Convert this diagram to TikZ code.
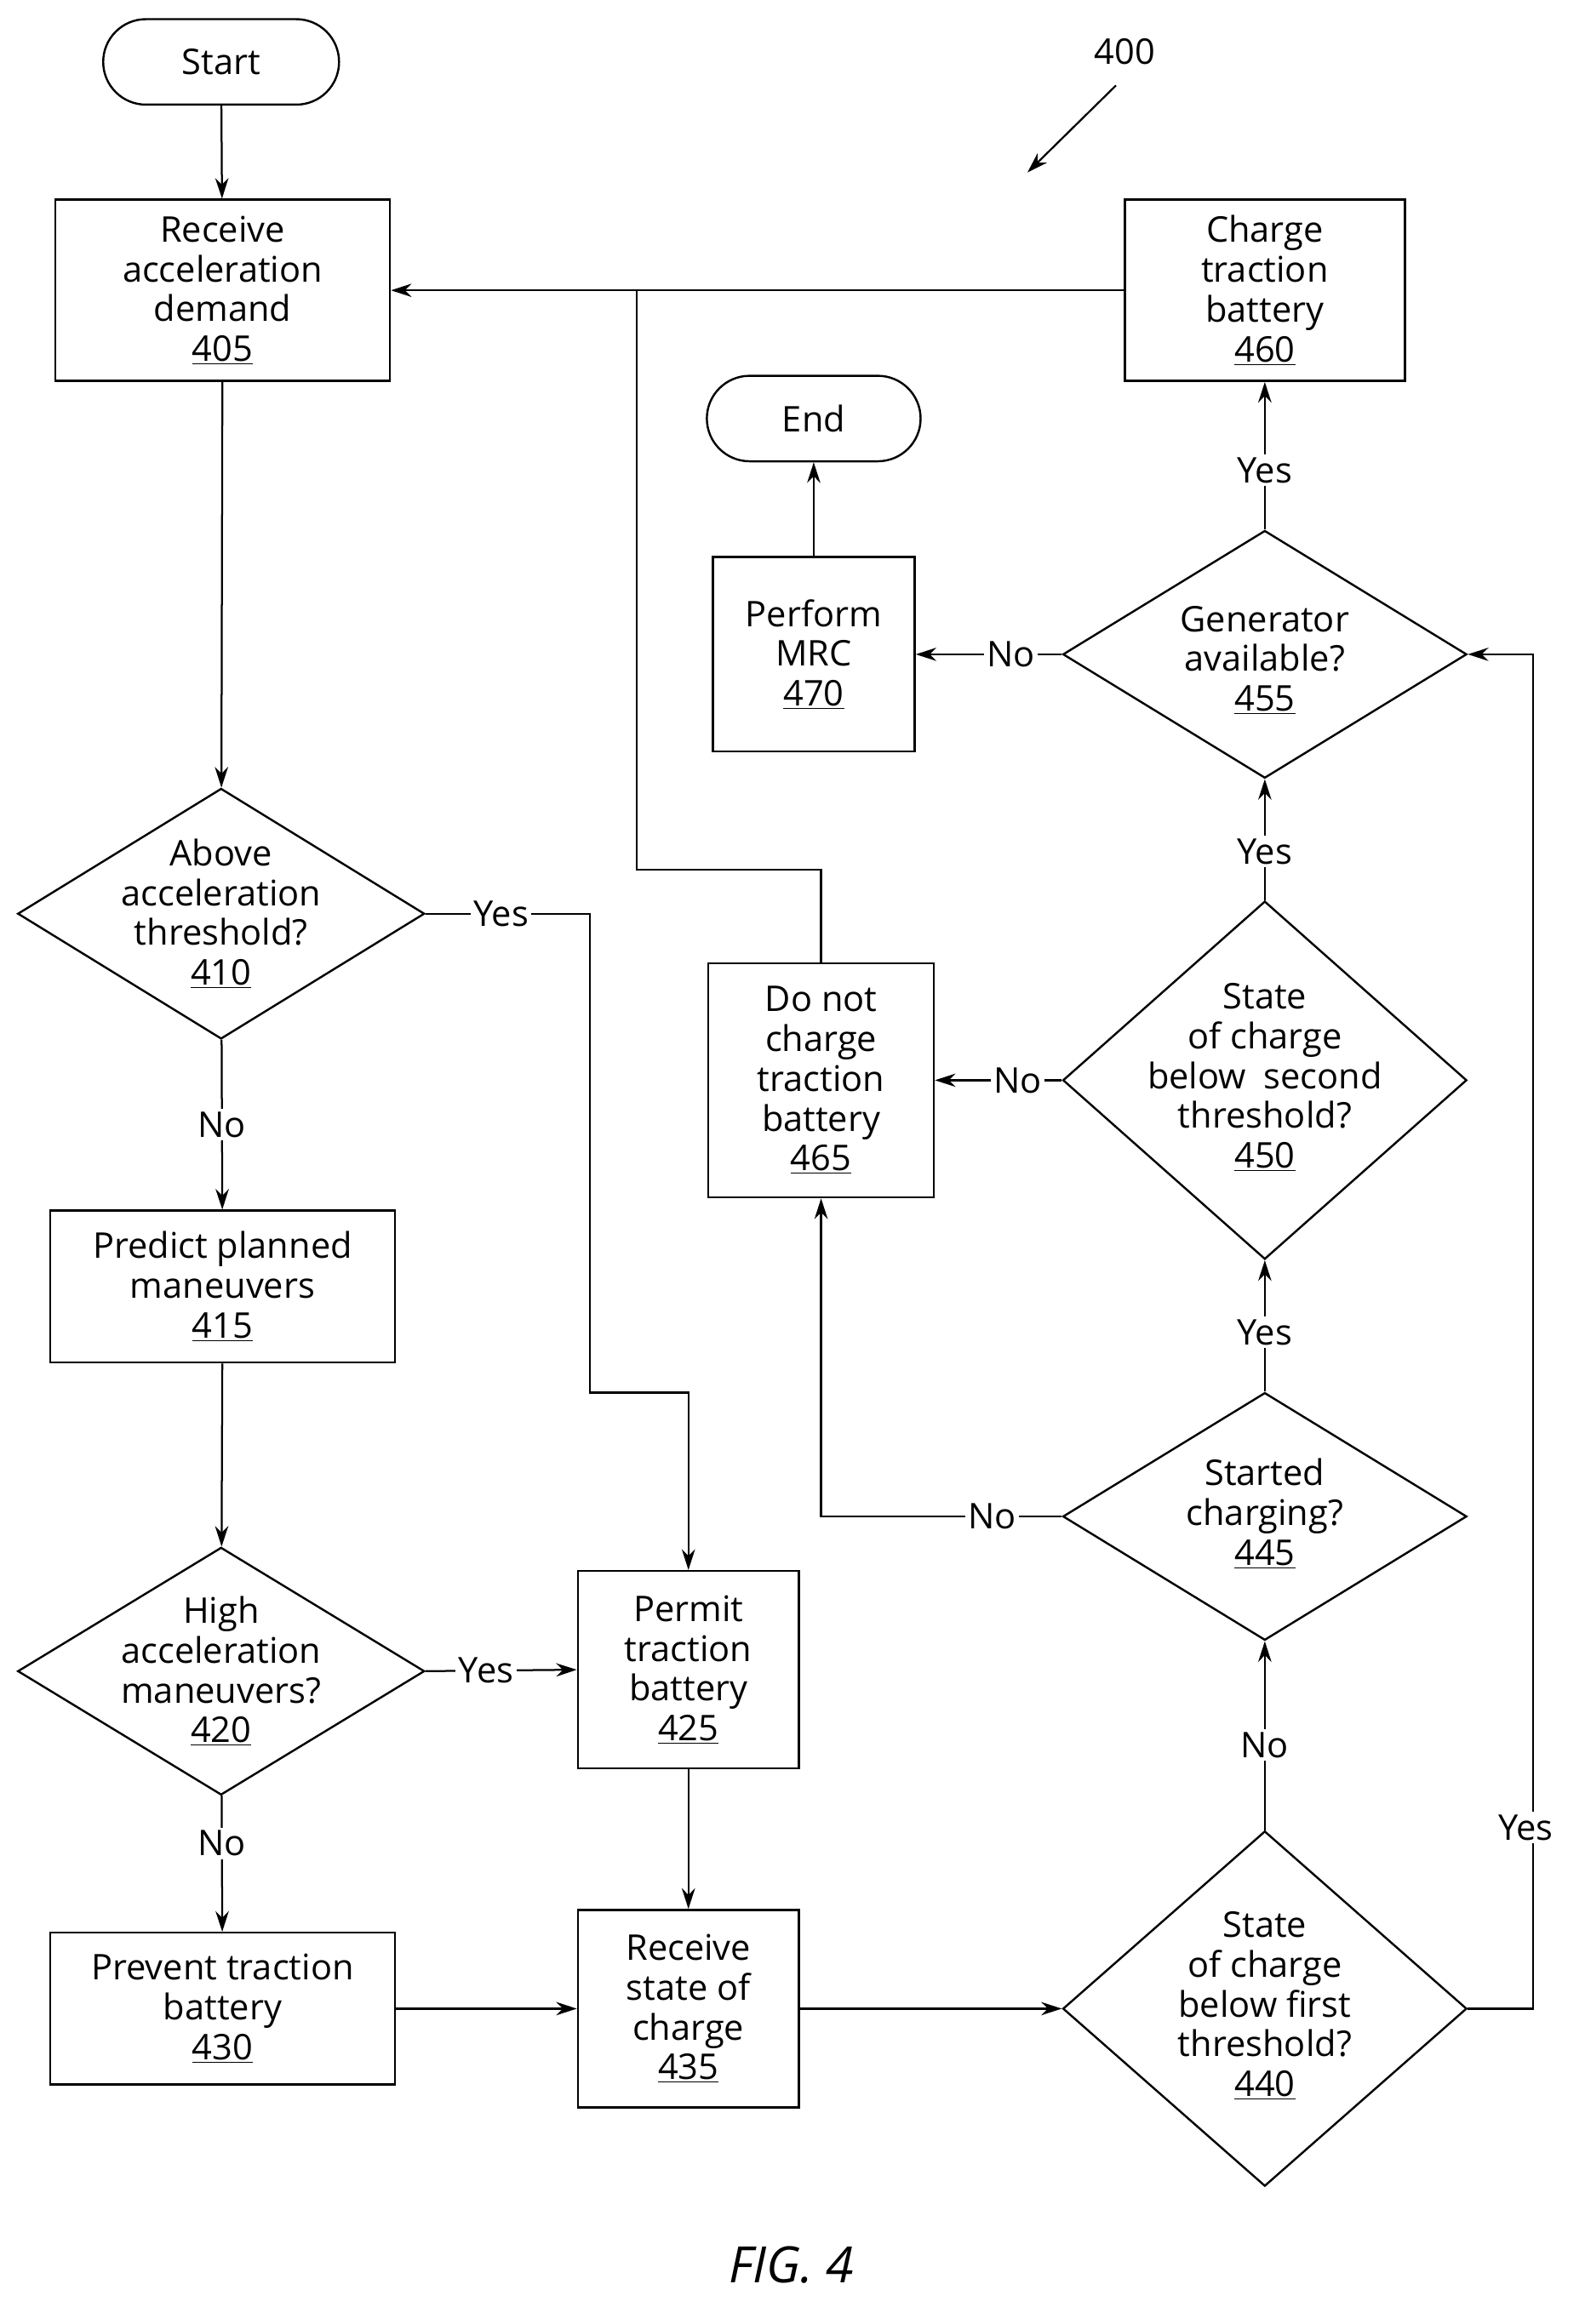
\documentclass[tikz,border=0pt]{standalone}
\usepackage{fontspec}
\setmainfont{Open Sans}
\usetikzlibrary{shapes.geometric,shapes.misc,arrows.meta}
\begin{document}
\begin{tikzpicture}[x=1pt,y=-1pt,
  every node/.style={font=\fontsize{24}{27}\selectfont,align=center,inner sep=0pt},
  box/.style={draw,line width=1.4pt,minimum width=#1},
  diam/.style={draw,diamond,line width=1.4pt,aspect=1.6,inner sep=0pt},
  term/.style={draw,rounded rectangle,line width=1.4pt,minimum width=160pt,minimum height=58pt},
  lab/.style={fill=white,inner sep=2pt},
  ar/.style={-{Stealth[length=14pt,width=9pt]},line width=1.3pt},
  ln/.style={line width=1.3pt}]
\useasboundingbox (0,0) rectangle (1075,1577);
\node[term] (start) at (150,42) {Start};
\node[box=227pt,minimum height=123pt] (n405) at (151,197) {Receive\\acceleration\\demand\\\underline{405}};
\node[box=190pt,minimum height=123pt] (n460) at (858,197) {Charge\\traction\\battery\\\underline{460}};
\node[term,minimum width=145pt] (end) at (552,284) {End};
\node[box=137pt,minimum height=132pt] (n470) at (552,444) {Perform\\MRC\\\underline{470}};
\node[draw,line width=1.4pt,diamond,minimum width=274pt,minimum height=168pt] (n455) at (858,444) {};
\node at (858,448) {Generator\\available?\\\underline{455}};
\node[draw,line width=1.4pt,diamond,minimum width=276pt,minimum height=170pt] (n410) at (150,620) {};
\node at (150,620) {Above\\acceleration\\threshold?\\\underline{410}};
\node[box=153pt,minimum height=159pt] (n465) at (557,733) {Do not\\charge\\traction\\battery\\\underline{465}};
\node[draw,line width=1.4pt,diamond,minimum width=274pt,minimum height=243pt] (n450) at (858,733) {};
\node at (858,731) {State\\of charge\\below\enspace second\\threshold?\\\underline{450}};
\node[box=234pt,minimum height=103pt] (n415) at (151,873) {Predict planned\\maneuvers\\\underline{415}};
\node[draw,line width=1.4pt,diamond,minimum width=274pt,minimum height=168pt] (n445) at (858,1029) {};
\node at (858,1027) {Started\\charging?\\\underline{445}};
\node[draw,line width=1.4pt,diamond,minimum width=276pt,minimum height=168pt] (n420) at (150,1134) {};
\node at (150,1134) {High\\acceleration\\maneuvers?\\\underline{420}};
\node[box=150pt,minimum height=134pt] (n425) at (467,1133) {Permit\\traction\\battery\\\underline{425}};
\node[box=234pt,minimum height=103pt] (n430) at (151,1363) {Prevent traction\\battery\\\underline{430}};
\node[box=150pt,minimum height=134pt] (n435) at (467,1363) {Receive\\state of\\charge\\\underline{435}};
\node[draw,line width=1.4pt,diamond,minimum width=274pt,minimum height=241pt] (n440) at (858,1363) {};
\node at (858,1361) {State\\of charge\\below first\\threshold?\\\underline{440}};
\node (r400) at (763,35) {400};
\coordinate (a400) at (697,117);
\draw[ar] (757,58) -- (a400);
\node[font=\itshape\fontsize{34}{36}\selectfont] (fig) at (537,1537) {FIG. 4};

\draw[ar] (start) -- (n405);
\draw[ar] (n405) -- (n410);
\draw[ar] (n410.east) -- (400,620) -- (400,945) -- (467,945) -- (n425.north);
\node[lab] at (340,620) {Yes};
\draw[ar] (n410) -- node[lab]{No} (n415);
\draw[ar] (n415) -- (n420);
\draw[ar] (n420.east) -- node[lab,pos=0.4]{Yes} (n425.west);
\draw[ar] (n420) -- node[lab,pos=0.35]{No} (n430);
\draw[ar] (n425) -- (n435);
\draw[ar] (n430) -- (n435);
\draw[ar] (n435) -- (n440.west);
\draw[ar] (n440.north) -- node[lab,pos=0.45]{No} (n445.south);
\draw[ar] (n440.east) -- (1040,1363) -- (1040,444) -- (n455.east);
\node[lab] at (1035,1240) {Yes};
\draw[ar] (n445.west) -- (557,1029) -- (n465.south);
\node[lab] at (673,1029) {No};
\draw[ar] (n445.north) -- node[lab,pos=0.45]{Yes} (n450.south);
\draw[ar] (n450.west) -- node[lab,pos=0.35]{No} (n465.east);
\draw[ar] (n450.north) -- node[lab,pos=0.4]{Yes} (n455.south);
\draw[ar] (n455.west) -- node[lab,pos=0.35]{No} (n470.east);
\draw[ar] (n455.north) -- node[lab,pos=0.4]{Yes} (n460.south);
\draw[ar] (n470) -- (end);
\draw[ln] (n465.north) -- (557,590) -- (432,590) -- (432,197);
\draw[ar] (n460.west) -- (n405.east);
\end{tikzpicture}
\end{document}
